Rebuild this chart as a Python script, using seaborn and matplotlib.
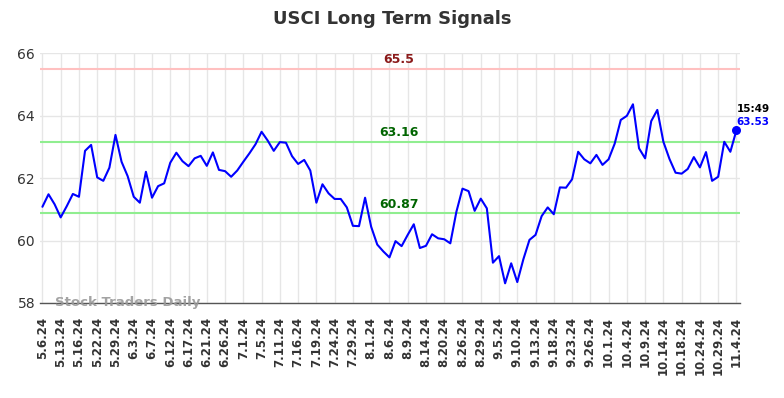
import matplotlib
matplotlib.use("Agg")
import matplotlib.pyplot as plt
import seaborn as sns
import pandas as pd

tick_labels = ["5.6.24", "5.13.24", "5.16.24", "5.22.24", "5.29.24", "6.3.24", "6.7.24",
               "6.12.24", "6.17.24", "6.21.24", "6.26.24", "7.1.24", "7.5.24", "7.11.24",
               "7.16.24", "7.19.24", "7.24.24", "7.29.24", "8.1.24", "8.6.24", "8.9.24",
               "8.14.24", "8.20.24", "8.26.24", "8.29.24", "9.5.24", "9.10.24", "9.13.24",
               "9.18.24", "9.23.24", "9.26.24", "10.1.24", "10.4.24", "10.9.24", "10.14.24",
               "10.18.24", "10.24.24", "10.29.24", "11.4.24"]

prices = [61.08, 61.48, 61.16, 60.74, 61.10, 61.49, 61.40, 62.87, 63.06, 62.02,
          61.91, 62.33, 63.38, 62.52, 62.06, 61.40, 61.21, 62.20, 61.37, 61.74,
          61.83, 62.49, 62.81, 62.54, 62.38, 62.63, 62.71, 62.39, 62.82, 62.26,
          62.22, 62.04, 62.24, 62.52, 62.79, 63.08, 63.48, 63.20, 62.87, 63.15,
          63.13, 62.70, 62.45, 62.58, 62.24, 61.21, 61.80, 61.51, 61.33, 61.33,
          61.06, 60.47, 60.46, 61.37, 60.44, 59.87, 59.65, 59.46, 59.98, 59.82,
          60.18, 60.52, 59.76, 59.83, 60.20, 60.07, 60.04, 59.91, 60.92, 61.66,
          61.58, 60.95, 61.34, 61.03, 59.29, 59.50, 58.63, 59.27, 58.67, 59.40,
          60.02, 60.18, 60.78, 61.06, 60.84, 61.70, 61.69, 61.96, 62.84, 62.60,
          62.47, 62.74, 62.42, 62.60, 63.10, 63.86, 63.99, 64.36, 62.95, 62.63,
          63.82, 64.18, 63.16, 62.61, 62.17, 62.14, 62.29, 62.67, 62.34, 62.83,
          61.91, 62.04, 63.16, 62.84, 63.53]

resistance = 65.5
upper_support = 63.16
lower_support = 60.87
last_time = "15:49"

df = pd.DataFrame({"idx": range(len(prices)), "price": prices})

sns.set_style("white")
fig = plt.figure(figsize=(7.84, 3.98), dpi=100)
ax = fig.add_axes([0.051, 0.2387, 0.893, 0.628])

sns.lineplot(data=df, x="idx", y="price", ax=ax, color="#0000ff", linewidth=1.5)

ax.axhline(resistance, color="#ffc0c0", linewidth=1.5, zorder=1)
ax.axhline(upper_support, color="#90ee90", linewidth=1.5, zorder=1)
ax.axhline(lower_support, color="#90ee90", linewidth=1.5, zorder=1)

mid = 58.5
ax.text(mid, resistance + 0.08, f"{resistance}", color="#8b1a1a", fontsize=9,
        fontweight="bold", ha="center", va="bottom")
ax.text(mid, upper_support + 0.08, f"{upper_support}", color="#006400", fontsize=9,
        fontweight="bold", ha="center", va="bottom")
ax.text(mid, lower_support + 0.08, f"{lower_support}", color="#006400", fontsize=9,
        fontweight="bold", ha="center", va="bottom")

last_i = len(prices) - 1
ax.scatter([last_i], [prices[-1]], color="#0000ff", s=30, zorder=5)
ax.text(last_i, prices[-1] + 0.52, last_time, color="black", fontsize=7.5,
        fontweight="bold", ha="left", va="bottom")
ax.text(last_i, prices[-1] + 0.1, f"{prices[-1]:.2f}", color="#0000ff", fontsize=7.5,
        fontweight="bold", ha="left", va="bottom")

ax.text(2, 58.02, "Stock Traders Daily", color="#999999", fontsize=9.5,
        fontweight="bold", alpha=0.9, ha="left", va="center")

ax.set_xlim(-0.4, 114.6)
ax.set_ylim(58, 66)
ax.set_yticks([58, 60, 62, 64, 66])
ax.set_xticks(list(range(0, len(prices), 3)))
ax.set_xticklabels(tick_labels, rotation=90, fontsize=8.5, fontweight="bold", color="#333333")
ax.tick_params(axis="y", labelsize=10, colors="#333333", length=0)
ax.tick_params(axis="x", length=0, pad=10)
ax.set_xlabel("")
ax.set_ylabel("")
ax.grid(True, color="#e6e6e6", linewidth=1)
ax.set_axisbelow(True)
for s in ["top", "right", "left"]:
    ax.spines[s].set_visible(False)
ax.spines["bottom"].set_color("#555555")
ax.spines["bottom"].set_linewidth(1)

fig.suptitle("USCI Long Term Signals", x=0.5, y=0.975, fontsize=13,
             fontweight="bold", color="#333333")

fig.savefig("out.png", dpi=100)
